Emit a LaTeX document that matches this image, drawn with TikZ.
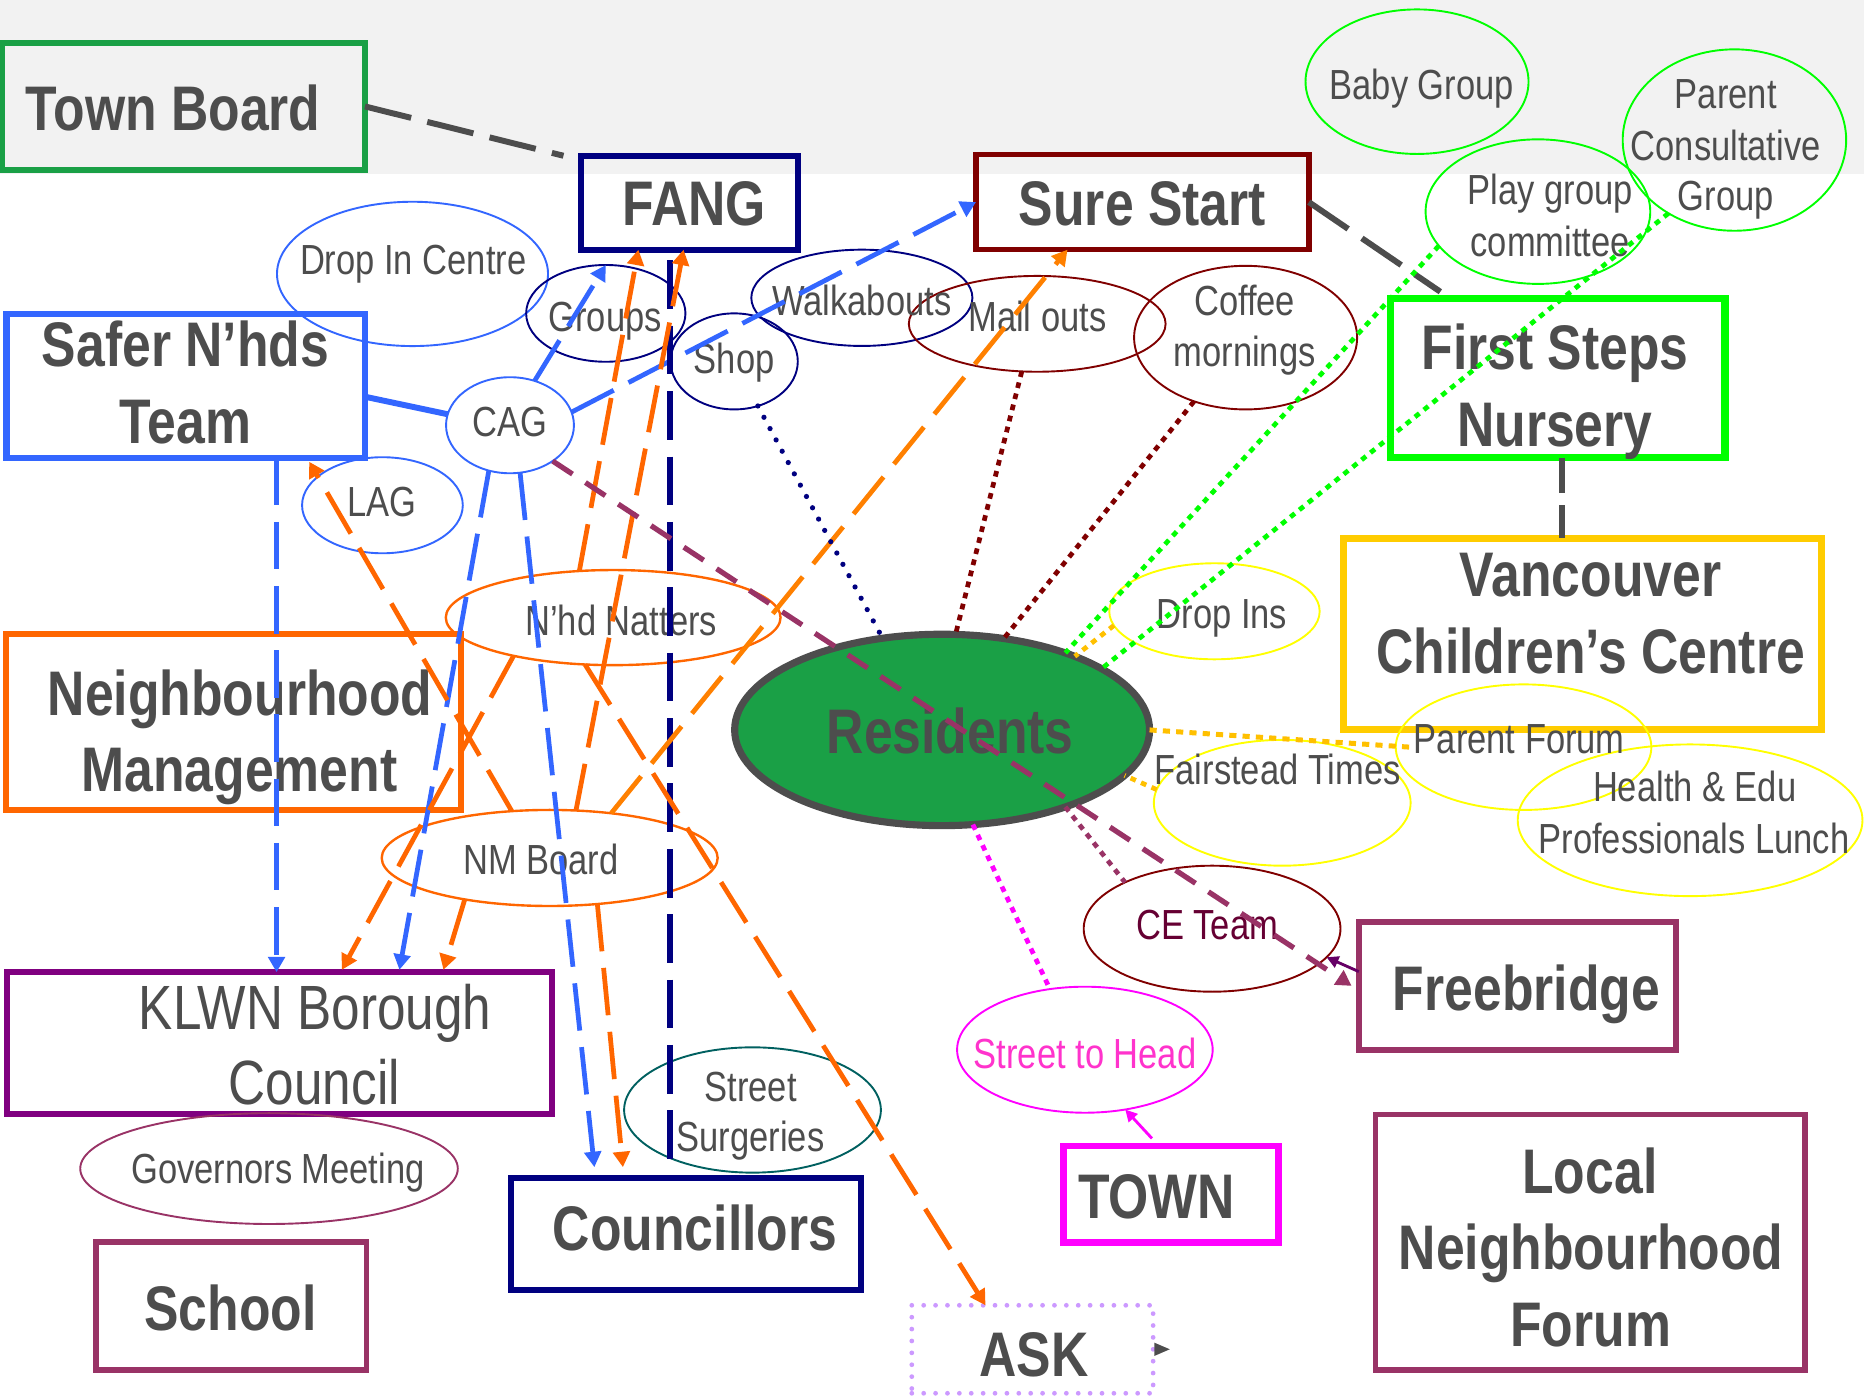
\documentclass[tikz,border=0pt]{standalone}
\usepackage{fontspec}
\setmainfont{Liberation Sans}[FakeStretch=0.82]
\usetikzlibrary{arrows.meta,shapes.geometric}
\definecolor{band}{HTML}{F2F2F2}
\definecolor{txt}{HTML}{4D4D4D}
\definecolor{tbgreen}{HTML}{1AA046}
\definecolor{cnavy}{HTML}{000080}
\definecolor{cdred}{HTML}{800000}
\definecolor{cblue}{HTML}{3366FF}
\definecolor{cgreen}{HTML}{00FF00}
\definecolor{cgold}{HTML}{FFCC00}
\definecolor{cgoldl}{HTML}{FFC000}
\definecolor{cyel}{HTML}{FFFF00}
\definecolor{corange}{HTML}{FF6600}
\definecolor{corangeb}{HTML}{FF8000}
\definecolor{cpurple}{HTML}{800080}
\definecolor{cpurpd}{HTML}{660066}
\definecolor{cplum}{HTML}{993366}
\definecolor{cmag}{HTML}{FF00FF}
\definecolor{cpink}{HTML}{FF33CC}
\definecolor{cteal}{HTML}{006060}
\definecolor{clav}{HTML}{CC99FF}
\definecolor{cmaroon}{HTML}{660033}
\newcommand\fbig{\fontsize{26.5pt}{32pt}\selectfont\bfseries}
\newcommand\fmid{\fontsize{26.3pt}{32pt}\selectfont}
\newcommand\fsml{\fontsize{17.7pt}{21pt}\selectfont}
\tikzset{
  boxs/.style={draw, rectangle, line width=2.5pt, inner sep=0pt, outer sep=0pt},
  ells/.style={draw, ellipse, line width=0.8pt, inner sep=0pt, outer sep=0pt},
  lbl/.style={anchor=base, text=txt, inner sep=0pt, font=\fsml},
  bigt/.style={anchor=base, text=txt, inner sep=0pt, font=\fbig},
  midt/.style={anchor=base, text=txt, inner sep=0pt, font=\fmid},
  dashln/.style={line width=2pt, dash pattern=on 20pt off 7pt},
  tipend/.style={-{Triangle[length=6.5pt,width=7pt]}},
  smalltip/.style={-{Triangle[length=5pt,width=5pt]}},
  dotln/.style={line width=2pt, dash pattern=on 2.4pt off 2.4pt},
  rdotln/.style={line width=2.2pt, line cap=round, dash pattern=on 0pt off 5.4pt}
}
\begin{document}
\begin{tikzpicture}[x=0.5pt,y=-0.5pt]
\useasboundingbox (0,0) rectangle (1568,1175);
\fill[white] (0,0) rectangle (1568,1175);
\fill[band] (0,0) rectangle (1568,146.3);

% ---------- boxes ----------
\node[boxs, draw=tbgreen, line width=2.3pt, minimum width=152.5pt, minimum height=53.5pt] (townboard) at (154.5,89.5) {};
\node[boxs, draw=cnavy, line width=2.6pt, minimum width=91pt, minimum height=39.5pt] (fang) at (580,170.5) {};
\node[boxs, draw=cdred, line width=2.3pt, minimum width=140pt, minimum height=40pt] (surestart) at (961,170) {};
\node[boxs, draw=cblue, line width=2.6pt, minimum width=150.75pt, minimum height=60.5pt] (safer) at (156.25,324.5) {};
\node[boxs, draw=cgreen, line width=3pt, minimum width=140.5pt, minimum height=67pt] (firststeps) at (1310.5,318) {};
\node[boxs, draw=cgold, line width=2.8pt, minimum width=201pt, minimum height=80.35pt] (vancouver) at (1331,533.3) {};
\node[boxs, draw=corange, line width=2.6pt, minimum width=191.3pt, minimum height=73.75pt] (nm) at (196.3,607.3) {};
\node[boxs, draw=cpurple, line width=2.6pt, minimum width=229.4pt, minimum height=59.6pt] (klwn) at (235,877.4) {};
\node[boxs, draw=cnavy, line width=2.6pt, minimum width=147.2pt, minimum height=47.1pt] (councillors) at (577.2,1037.9) {};
\node[boxs, draw=cplum, line width=2.4pt, minimum width=113.75pt, minimum height=53.7pt] (school) at (194.5,1098.7) {};
\node[boxs, draw=cmag, line width=2.8pt, minimum width=90.3pt, minimum height=40.5pt] (town) at (985,1004.5) {};
\node[boxs, draw=cplum, line width=2.4pt, minimum width=133.5pt, minimum height=53.65pt] (freebridge) at (1276.5,829.3) {};
\node[boxs, draw=cplum, line width=2.4pt, minimum width=180.7pt, minimum height=107.45pt] (lnf) at (1337.7,1045) {};
\node[boxs, draw=clav, line width=2pt, line cap=round, dash pattern=on 0pt off 5pt, minimum width=101.5pt, minimum height=37pt] (ask) at (868.5,1135) {};

% ---------- ellipses ----------
\node[ells, draw=cblue, minimum width=114pt, minimum height=60.7pt] (dropincentre) at (347,230.4) {};
\node[ells, draw=cnavy, minimum width=67pt, minimum height=40.7pt] (groups) at (509.6,263.6) {};
\node[ells, draw=cnavy, minimum width=93pt, minimum height=40.5pt] (walkabouts) at (725,250.5) {};
\node[ells, draw=cnavy, minimum width=53.5pt, minimum height=40.4pt] (shop) at (617.6,304) {};
\node[ells, draw=cdred, minimum width=108pt, minimum height=40.3pt] (mailouts) at (872.5,272.4) {};
\node[ells, draw=cdred, minimum width=93.8pt, minimum height=60.4pt] (coffee) at (1047.8,284) {};
\node[ells, draw=cblue, minimum width=53.8pt, minimum height=40.4pt] (cag) at (429,357.7) {};
\node[ells, draw=cblue, minimum width=67.6pt, minimum height=40.4pt] (lag) at (321.7,425) {};
\node[ells, draw=cgreen, minimum width=93.8pt, minimum height=60.8pt] (babygroup) at (1192,68.7) {};
\node[ells, draw=cgreen, minimum width=94.5pt, minimum height=60.8pt] (playgroup) at (1293.7,178) {};
\node[ells, draw=cgreen, minimum width=94pt, minimum height=76.3pt] (pcg) at (1459,117.8) {};
\node[ells, draw=corange, line width=1pt, minimum width=140.8pt, minimum height=40pt] (natters) at (515.8,519.5) {};
\node[ells, draw=cyel, minimum width=88.5pt, minimum height=40.4pt] (dropins) at (1021.6,514.2) {};
\node[ells, draw=txt, fill=tbgreen, line width=3pt, minimum width=174.5pt, minimum height=80.5pt] (residents) at (792.5,614) {};
\node[ells, draw=cyel, minimum width=107.5pt, minimum height=52.8pt] (parentforum) at (1281.6,628.5) {};
\node[ells, draw=cyel, minimum width=108pt, minimum height=52.9pt] (fairstead) at (1078.6,675.3) {};
\node[ells, draw=cyel, minimum width=145pt, minimum height=63.8pt] (health) at (1421.7,690) {};
\node[ells, draw=cdred, minimum width=108pt, minimum height=53pt] (ceteam) at (1019.6,781.2) {};
\node[ells, draw=cmag, minimum width=107.5pt, minimum height=53pt] (streettohead) at (912.6,883) {};
\node[ells, draw=corange, line width=1pt, minimum width=141.3pt, minimum height=40.4pt] (nmboard) at (462.4,721.7) {};
\node[ells, draw=cteal, minimum width=108pt, minimum height=52.7pt] (surgeries) at (633,933.7) {};
\node[ells, draw=cplum, minimum width=158.8pt, minimum height=46.6pt] (governors) at (226.3,983) {};

% ---------- texts ----------
\node[bigt] (t-townboard) at (145.6,109.4) {Town Board};
\node[bigt] (t-fang) at (584,189.3) {FANG};
\node[bigt] (t-surestart) at (961,189.3) {Sure Start};
\node[bigt] (t-safer1) at (156,308.5) {Safer N’hds};
\node[bigt] (t-safer2) at (156,373) {Team};
\node[bigt] (t-first1) at (1308,311.2) {First Steps};
\node[bigt] (t-first2) at (1308,375.8) {Nursery};
\node[bigt] (t-van1) at (1338,502) {Vancouver};
\node[bigt] (t-van2) at (1338,566.4) {Children’s Centre};
\node[bigt] (t-nm1) at (202,601.5) {Neighbourhood};
\node[bigt] (t-nm2) at (201.5,666) {Management};
\node[bigt] (t-res) at (799.3,633.6) {Residents};
\node[bigt] (t-free) at (1284,849.6) {Freebridge};
\node[bigt] (t-coun) at (584.7,1051.5) {Councillors};
\node[bigt] (t-school) at (193.8,1118.8) {School};
\node[bigt] (t-town) at (972.8,1024.8) {TOWN};
\node[bigt] (t-lnf1) at (1337.4,1003.8) {Local};
\node[bigt] (t-lnf2) at (1338.4,1068.3) {Neighbourhood};
\node[bigt] (t-lnf3) at (1338,1132.8) {Forum};
\node[bigt] (t-ask) at (869.7,1158) {ASK};
\node[midt] (t-klwn1) at (265,866.4) {KLWN Borough};
\node[midt] (t-klwn2) at (264.4,929.5) {Council};
\node[lbl] (t-dic) at (347.6,231.3) {Drop In Centre};
\node[lbl] (t-groups) at (509,279) {Groups};
\node[lbl] (t-walk) at (725,265) {Walkabouts};
\node[lbl] (t-shop) at (617.6,314) {Shop};
\node[lbl] (t-mail) at (872.6,279) {Mail outs};
\node[lbl] (t-coffee1) at (1047,265) {Coffee};
\node[lbl] (t-coffee2) at (1047,308.5) {mornings};
\node[lbl] (t-cag) at (429,367.3) {CAG};
\node[lbl] (t-lag) at (321,434.6) {LAG};
\node[lbl] (t-baby) at (1196,84) {Baby Group};
\node[lbl] (t-play1) at (1304,172.4) {Play group};
\node[lbl] (t-play2) at (1304,216) {committee};
\node[lbl] (t-pcg1) at (1451.7,91.1) {Parent};
\node[lbl] (t-pcg2) at (1451.7,134.6) {Consultative};
\node[lbl] (t-pcg3) at (1451.7,176.7) {Group};
\node[lbl] (t-natters) at (522.6,534.2) {N’hd Natters};
\node[lbl] (t-dropins) at (1027.9,528.6) {Drop Ins};
\node[lbl] (t-pf) at (1278,633.7) {Parent Forum};
\node[lbl] (t-fair) at (1074.8,660.3) {Fairstead Times};
\node[lbl] (t-health1) at (1425.6,674.4) {Health \& Edu};
\node[lbl] (t-health2) at (1425,717.8) {Professionals Lunch};
\node[lbl, text=cmaroon] (t-ce) at (1015.4,790.7) {CE Team};
\node[lbl, text=cpink] (t-sth) at (912.8,898.7) {Street to Head};
\node[lbl] (t-nmb) at (455,736) {NM Board};
\node[lbl] (t-ss1) at (631.4,926.7) {Street};
\node[lbl] (t-ss2) at (631.4,968.8) {Surgeries};
\node[lbl] (t-gov) at (233.8,995.4) {Governors Meeting};

% ---------- connectors ----------
\draw[dashln, draw=txt, line width=2.5pt] (townboard.east) -- ([xshift=-7.5pt]fang.north west);
\draw[dashln, draw=txt, line width=2.5pt] (surestart.east) -- ([xshift=20.8pt,yshift=2.8pt]firststeps.north west);
\coordinate (fsv) at ([xshift=1.75pt]firststeps.south);
\draw[draw=txt, line width=2.5pt, dash pattern=on 15pt off 5pt] (fsv) -- (fsv |- vancouver.north);

\draw[cblue, line width=2.5pt] ([yshift=-4.6pt]safer.east) -- (cag.170);
\draw[dashln, cblue, tipend] (cag.61) -- (groups.north);
\draw[dashln, cblue, tipend] (cag.12) -- (surestart.west);
\draw[dashln, cblue, tipend] (cag.245) -- ([xshift=50.5pt,yshift=1pt]klwn.north);
\draw[dashln, cblue, tipend] (cag.282) -- ([xshift=-38.6pt,yshift=4.5pt]councillors.north);
\coordinate (sk) at ([xshift=38.2pt]safer.south);
\draw[dashln, cblue, tipend] (sk) -- (sk |- klwn.north);

\coordinate (nvtop) at ([xshift=-8.2pt]fang.south);
\coordinate (nvbot) at ([yshift=4.5pt]councillors.north);
\draw[cnavy, line width=2.6pt, dash pattern=on 20.5pt off 7pt, dash phase=23pt] (nvtop) -- (nvtop |- nvbot);

\draw[dashln, corange, tipend] (natters.126) -- ([xshift=-21.5pt]fang.south);
\draw[dashln, corange, tipend] (nmboard.61) -- ([xshift=-2.5pt]fang.south);
\draw[dashln, corangeb, tipend] (nmboard.36) -- ([xshift=-31.5pt]surestart.south);
\draw[dashln, corange, tipend] (nmboard.129) -- ([xshift=51.9pt,yshift=-1.7pt]safer.south);
\draw[dashln, corange, tipend] (natters.239) -- ([xshift=-19.75pt]ask.north);
\draw[dashln, corange, tipend] (natters.201) -- ([xshift=26.3pt,yshift=1pt]klwn.north);
\draw[dashln, corange, tipend] (nmboard.206) -- ([xshift=69pt,yshift=1pt]klwn.north);
\draw[dashln, corange, tipend] (nmboard.316) -- ([xshift=-26.6pt,yshift=4.5pt]councillors.north);

\draw[cplum, line width=2.2pt, dash pattern=on 10pt off 6.5pt, tipend] (cag.320) -- ([xshift=-3pt]freebridge.west);

\draw[rdotln, cnavy] (shop.298) -- (residents.123);
\draw[dotln, cdred] (mailouts.252) -- (residents.82);
\draw[dotln, cdred] (coffee.231) -- (residents.56);
\draw[dotln, cgreen] (playgroup.199) -- (residents.32);
\draw[dotln, cgreen] (pcg.228) -- (residents.21);
\draw[dotln, cgoldl] (dropins.188) -- (residents.29);
\draw[cgoldl, line width=2.1pt, dash pattern=on 3pt off 2.6pt] (residents.east) -- ([xshift=6pt]parentforum.west);
\draw[dotln, cgoldl] (fairstead.174) -- (residents.346);
\draw[dotln, cplum] (residents.328) -- (ceteam.152);
\draw[dotln, cmag] (residents.288) -- (streettohead.120);
\draw[cmag, line width=1.2pt, smalltip] ([xshift=-8pt,yshift=3.2pt]town.north) -- (streettohead.304);
\draw[cpurpd, line width=1.2pt, smalltip] ([yshift=6pt]freebridge.west) -- (ceteam.346);
\fill[txt] ([xshift=0.5pt,yshift=2.8pt]ask.east) -- ([xshift=7pt]ask.east) -- ([xshift=0.5pt,yshift=-2.8pt]ask.east) -- cycle;
\end{tikzpicture}
\end{document}
